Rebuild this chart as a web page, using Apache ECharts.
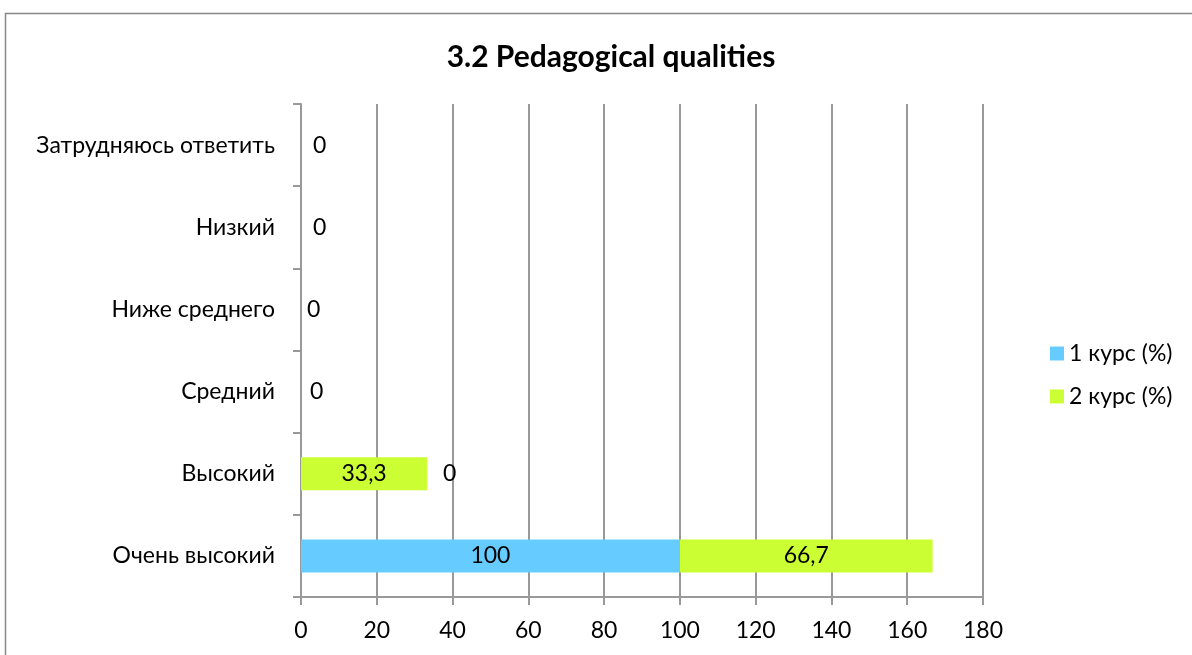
<!DOCTYPE html>
<html>
<head>
<meta charset="utf-8">
<script src="https://cdn.jsdelivr.net/npm/echarts@6/dist/echarts.min.js"></script>
<style>
  html, body { margin: 0; padding: 0; background: #fff; }
  #chart { width: 1192px; height: 655px; }
</style>
</head>
<body>
<div id="chart"></div>
<script>
const categories = ['Очень высокий', 'Высокий', 'Средний', 'Ниже среднего', 'Низкий', 'Затрудняюсь ответить']
const course1 = [100, 0, 0, 0, 0, 0]
const course2 = [66.7, 33.3, null, null, null, null]
const xTicks = [0, 20, 40, 60, 80, 100, 120, 140, 160, 180]

const font = 'Lato, "Open Sans", sans-serif'
const fmt = v => String(v).replace('.', ',')

// offsets of the zero labels, as Excel left them
const zeroOffsets = [[0, 0], [134, 0], [1, 0], [-2, 0], [4, 0], [4, 0]]

const chart = echarts.init(document.getElementById('chart'))
chart.setOption({
  animation: false,
  graphic: [{
    type: 'rect',
    shape: { x: 5.5, y: 13.5, width: 1300, height: 800 },
    style: { fill: 'none', stroke: '#888', lineWidth: 1.5 }
  }],
  title: {
    text: '3.2 Pedagogical qualities',
    left: 606,
    top: 37,
    textAlign: 'center',
    textStyle: { fontFamily: font, fontSize: 30, fontWeight: 'bold', color: '#000' }
  },
  legend: {
    orient: 'vertical',
    left: 1045,
    top: 337,
    itemWidth: 14,
    itemHeight: 14,
    itemGap: 20,
    icon: 'rect',
    textStyle: { fontFamily: font, fontSize: 23, color: '#000' },
    data: ['1 курс (%)', '2 курс (%)']
  },
  grid: { left: 301, right: 209, top: 104, bottom: 58 },
  xAxis: {
    type: 'value',
    min: 0,
    max: 180,
    interval: 20,
    axisLine: { show: true, lineStyle: { color: '#999', width: 2 } },
    axisTick: { show: true, length: 8, lineStyle: { color: '#999', width: 2 } },
    splitLine: { show: true, lineStyle: { color: '#999', width: 2 } },
    axisLabel: {
      margin: 22,
      fontFamily: font,
      fontSize: 23,
      color: '#000',
      formatter: v => xTicks.includes(v) ? String(v) : ''
    }
  },
  yAxis: {
    type: 'category',
    data: categories,
    axisLine: { show: true, lineStyle: { color: '#999', width: 2 } },
    axisTick: { show: true, length: 8, lineStyle: { color: '#999', width: 2 } },
    axisLabel: { margin: 26, fontFamily: font, fontSize: 23, color: '#000' }
  },
  series: [{
    name: '1 курс (%)',
    type: 'bar',
    stack: 'total',
    barWidth: 33,
    itemStyle: { color: '#66ccff' },
    label: {
      show: true,
      position: 'inside',
      fontFamily: font,
      fontSize: 23,
      color: '#000',
      formatter: p => fmt(p.value)
    },
    data: course1.map((v, i) => v === 0
      ? { value: v, label: { position: 'right', distance: 8, offset: zeroOffsets[i] } }
      : v)
  }, {
    name: '2 курс (%)',
    type: 'bar',
    stack: 'total',
    barWidth: 33,
    itemStyle: { color: '#ccff33' },
    label: {
      show: true,
      position: 'inside',
      fontFamily: font,
      fontSize: 23,
      color: '#000',
      formatter: p => p.value == null ? '' : fmt(p.value)
    },
    data: course2
  }]
})
</script>
</body>
</html>
